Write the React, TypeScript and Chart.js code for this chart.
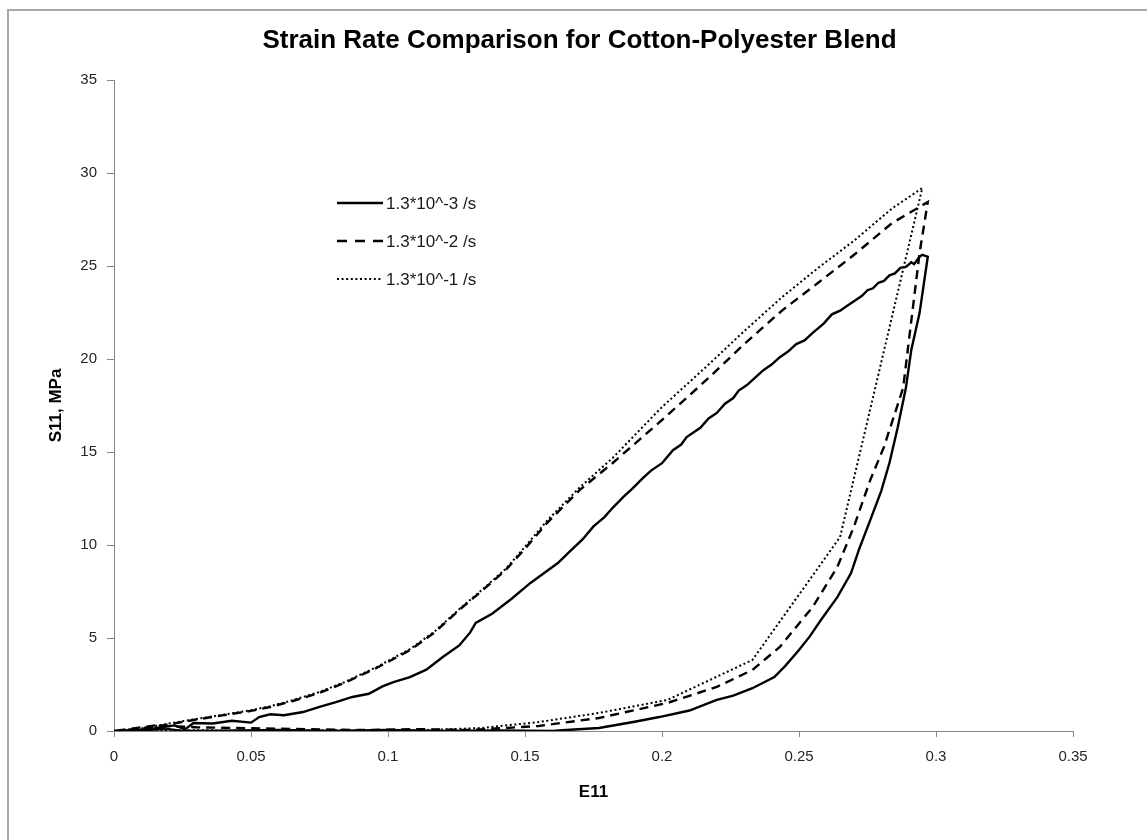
import React, { useEffect, useRef } from "react";
import { Chart, registerables } from "chart.js";

Chart.register(...registerables);

const chartTitle = "Strain Rate Comparison for Cotton-Polyester Blend";
const xAxisTitle = "E11";
const yAxisTitle = "S11, MPa";
const seriesLabels = ["1.3*10^-3 /s", "1.3*10^-2 /s", "1.3*10^-1 /s"];

const xTicks = [0, 0.05, 0.1, 0.15, 0.2, 0.25, 0.3, 0.35];
const xTickLabels = ["0", "0.05", "0.1", "0.15", "0.2", "0.25", "0.3", "0.35"];
const yTicks = [0, 5, 10, 15, 20, 25, 30, 35];
const yTickLabels = ["0", "5", "10", "15", "20", "25", "30", "35"];

// 1.3*10^-3 /s (solid)
const slowStrain = [
  0, 0.008, 0.015, 0.022, 0.026, 0.029, 0.036, 0.043, 0.05, 0.053, 0.057, 0.062, 0.069, 0.075,
  0.081, 0.087, 0.093, 0.098, 0.102, 0.108, 0.114, 0.12, 0.126, 0.13, 0.132, 0.138, 0.145,
  0.152, 0.158, 0.162, 0.166, 0.171, 0.175, 0.179, 0.182, 0.186, 0.189, 0.193, 0.196, 0.2,
  0.204, 0.207, 0.209, 0.212, 0.214, 0.217, 0.22, 0.223, 0.226, 0.228, 0.231, 0.234, 0.237,
  0.24, 0.243, 0.246, 0.249, 0.252, 0.255, 0.259, 0.262, 0.265, 0.268, 0.271, 0.273, 0.275,
  0.277, 0.279, 0.281, 0.283, 0.285, 0.287, 0.289, 0.291, 0.292, 0.294, 0.295, 0.297,
  0.294, 0.291, 0.289, 0.286, 0.283, 0.28, 0.276, 0.272, 0.269, 0.264, 0.258, 0.254, 0.25,
  0.245, 0.241, 0.233, 0.226, 0.22, 0.21, 0.199, 0.19, 0.177, 0.165, 0.16,
  0.14, 0.12, 0.1, 0.08, 0.06, 0.04, 0.025, 0.02, 0.01, 0,
];
const slowStress = [
  0, 0.05, 0.15, 0.3, 0.1, 0.43, 0.4, 0.55, 0.45, 0.75, 0.9, 0.85, 1.02, 1.3,
  1.55, 1.83, 2.0, 2.4, 2.63, 2.9, 3.3, 3.98, 4.6, 5.3, 5.81, 6.3, 7.1,
  7.96, 8.6, 9.03, 9.6, 10.3, 11.0, 11.5, 12.0, 12.6, 13.0, 13.6, 14.0, 14.4,
  15.1, 15.4, 15.8, 16.1, 16.3, 16.8, 17.1, 17.6, 17.9, 18.3, 18.6, 19.0, 19.4,
  19.7, 20.1, 20.4, 20.8, 21.0, 21.4, 21.9, 22.4, 22.6, 22.9, 23.2, 23.4, 23.7,
  23.8, 24.1, 24.2, 24.5, 24.6, 24.9, 24.95, 25.2, 25.1, 25.5, 25.6, 25.5,
  22.47, 20.5, 18.44, 16.3, 14.41, 12.9, 11.34, 9.8, 8.49, 7.2, 5.97, 5.1, 4.35,
  3.5, 2.9, 2.3, 1.9, 1.67, 1.1, 0.75, 0.5, 0.16, 0.05, 0,
  0.03, 0, 0.05, 0, 0.05, 0.02, 0.0, 0.1, 0.05, 0,
];

// 1.3*10^-2 /s (dashed)
const midStrain = [
  0, 0.007, 0.013, 0.02, 0.029, 0.04, 0.05, 0.057, 0.065, 0.075, 0.084, 0.096, 0.108, 0.117,
  0.126, 0.134, 0.143, 0.15, 0.158, 0.17, 0.182, 0.2, 0.217, 0.23, 0.244, 0.257, 0.27, 0.284,
  0.297,
  0.294, 0.288, 0.281, 0.276, 0.27, 0.264, 0.255, 0.243, 0.233, 0.22, 0.202, 0.177, 0.155,
  0.13, 0.11, 0.09, 0.07, 0.05, 0.03, 0.015, 0,
];
const midStress = [
  0, 0.1, 0.2, 0.35, 0.59, 0.85, 1.08, 1.29, 1.6, 2.05, 2.58, 3.4, 4.35, 5.3,
  6.51, 7.5, 8.66, 9.8, 11.18, 12.96, 14.41, 16.72, 18.98, 20.8, 22.63, 24.1, 25.59, 27.31,
  28.44,
  25.7, 18.44, 15.27, 13.49, 10.97, 8.82, 6.67, 4.52, 3.28, 2.37, 1.51, 0.7, 0.27,
  0.05, 0.1, 0.05, 0.1, 0.15, 0.2, 0.3, 0,
];

// 1.3*10^-1 /s (dotted)
const fastStrain = [
  0, 0.007, 0.013, 0.02, 0.029, 0.04, 0.05, 0.057, 0.065, 0.075, 0.084, 0.096, 0.108, 0.117,
  0.126, 0.134, 0.143, 0.15, 0.158, 0.17, 0.182, 0.2, 0.217, 0.23, 0.244, 0.257, 0.27, 0.284,
  0.295,
  0.265, 0.233, 0.202, 0.177, 0.155, 0.134, 0.104,
  0.08, 0.05, 0.02, 0,
];
const fastStress = [
  0, 0.1, 0.2, 0.4, 0.62, 0.88, 1.12, 1.33, 1.65, 2.1, 2.62, 3.45, 4.4, 5.35,
  6.55, 7.55, 8.72, 9.9, 11.3, 13.1, 14.68, 17.42, 19.7, 21.5, 23.35, 24.9, 26.35, 28.1,
  29.19,
  10.43, 3.82, 1.67, 0.97, 0.48, 0.16, 0,
  0.05, 0.02, 0.05, 0,
];

const toPoints = (xs: number[], ys: number[]) => xs.map((x, i) => ({ x, y: ys[i] }));

const FONT = "'Liberation Sans', Arial, sans-serif";

const inlineLegend = {
  id: "inlineLegend",
  afterDraw(chart: any) {
    const { ctx, chartArea } = chart;
    const { left, top, width, height } = chartArea;
    const x0 = left + width * (223 / 959);
    const x1 = left + width * (269 / 959);
    const rows = [123 / 651, 161 / 651, 199 / 651];
    const legendDash = [[], [10, 8], [2, 2.6]];
    chart.data.datasets.forEach((ds: any, i: number) => {
      const y = top + height * rows[i];
      ctx.save();
      ctx.strokeStyle = ds.borderColor;
      ctx.lineWidth = ds.borderWidth;
      ctx.setLineDash(legendDash[i]);
      ctx.beginPath();
      ctx.moveTo(x0, y);
      ctx.lineTo(x1, y);
      ctx.stroke();
      ctx.setLineDash([]);
      ctx.fillStyle = "#1a1a1a";
      ctx.font = `17px ${FONT}`;
      ctx.textBaseline = "middle";
      ctx.textAlign = "left";
      ctx.fillText(ds.label, x1 + 3, y + 1);
      ctx.restore();
    });
  },
};

export default function App() {
  const canvasRef = useRef<HTMLCanvasElement | null>(null);

  useEffect(() => {
    const canvas = canvasRef.current;
    if (!canvas) return;
    const axisColor = "#868686";
    const chart = new Chart(canvas, {
      type: "line",
      data: {
        datasets: [
          {
            label: seriesLabels[0],
            data: toPoints(slowStrain, slowStress),
            borderColor: "#000000",
            borderWidth: 2.4,
            borderDash: [],
            pointRadius: 0,
            tension: 0,
            fill: false,
          },
          {
            label: seriesLabels[1],
            data: toPoints(midStrain, midStress),
            borderColor: "#000000",
            borderWidth: 2.4,
            borderDash: [9, 6],
            pointRadius: 0,
            tension: 0,
            fill: false,
          },
          {
            label: seriesLabels[2],
            data: toPoints(fastStrain, fastStress),
            borderColor: "#000000",
            borderWidth: 2,
            borderDash: [2, 2.6],
            pointRadius: 0,
            tension: 0,
            fill: false,
          },
        ],
      },
      options: {
        responsive: false,
        animation: false,
        devicePixelRatio: 1,
        layout: { padding: { left: 12, right: 0, top: 0, bottom: 0 } },
        plugins: {
          legend: { display: false },
          tooltip: { enabled: false },
          title: {
            display: true,
            text: chartTitle,
            color: "#000000",
            font: { family: FONT, size: 26, weight: "bold", lineHeight: 1.2 },
            padding: { top: 25, bottom: 23.8 },
          },
        },
        scales: {
          x: {
            type: "linear",
            min: 0,
            max: 0.35,
            afterBuildTicks: (s: any) => {
              s.ticks = xTicks.map((v) => ({ value: v }));
            },
            afterFit: (s: any) => {
              s.height = 109;
            },
            grid: { drawOnChartArea: false, drawTicks: true, tickLength: 6, color: axisColor },
            border: { display: true, color: axisColor, width: 1 },
            ticks: {
              color: "#262626",
              font: { family: FONT, size: 15 },
              padding: 11,
              maxRotation: 0,
              autoSkip: false,
              callback: (_v: any, i: number) => xTickLabels[i],
            },
            title: {
              display: true,
              text: xAxisTitle,
              color: "#000000",
              font: { family: FONT, size: 17, weight: "bold", lineHeight: 1.2 },
              padding: { top: 0, bottom: 37 },
            },
          },
          y: {
            type: "linear",
            position: "left",
            min: 0,
            max: 35,
            afterBuildTicks: (s: any) => {
              s.ticks = yTicks.map((v) => ({ value: v }));
            },
            afterFit: (s: any) => {
              s.width = 102;
            },
            grid: { drawOnChartArea: false, drawTicks: true, tickLength: 7, color: axisColor },
            border: { display: true, color: axisColor, width: 1 },
            ticks: {
              color: "#262626",
              font: { family: FONT, size: 15 },
              padding: 10,
              autoSkip: false,
              callback: (_v: any, i: number) => yTickLabels[i],
            },
            title: {
              display: true,
              text: yAxisTitle,
              color: "#000000",
              font: { family: FONT, size: 17, weight: "bold", lineHeight: 1.2 },
              padding: { top: 34, bottom: 0 },
            },
          },
          rightGap: {
            type: "linear",
            position: "right",
            min: 0,
            max: 35,
            display: true,
            afterFit: (s: any) => {
              s.width = 74;
            },
            grid: { display: false, drawTicks: false },
            border: { display: false },
            ticks: { display: false },
            title: { display: false },
          },
        },
      },
      plugins: [inlineLegend],
    } as any);
    return () => chart.destroy();
  }, []);

  return (
    <div>
      <div
        style={{
          position: "absolute",
          left: 7,
          top: 9,
          width: 1140,
          height: 831,
          boxSizing: "border-box",
          borderLeft: "2px solid #a9a9a9",
          borderTop: "2px solid #a9a9a9",
          pointerEvents: "none",
        }}
      />
      <canvas
        ref={canvasRef}
        width={1147}
        height={840}
        style={{ position: "absolute", left: 0, top: 0, display: "block", width: 1147, height: 840 }}
      />
    </div>
  );
}
